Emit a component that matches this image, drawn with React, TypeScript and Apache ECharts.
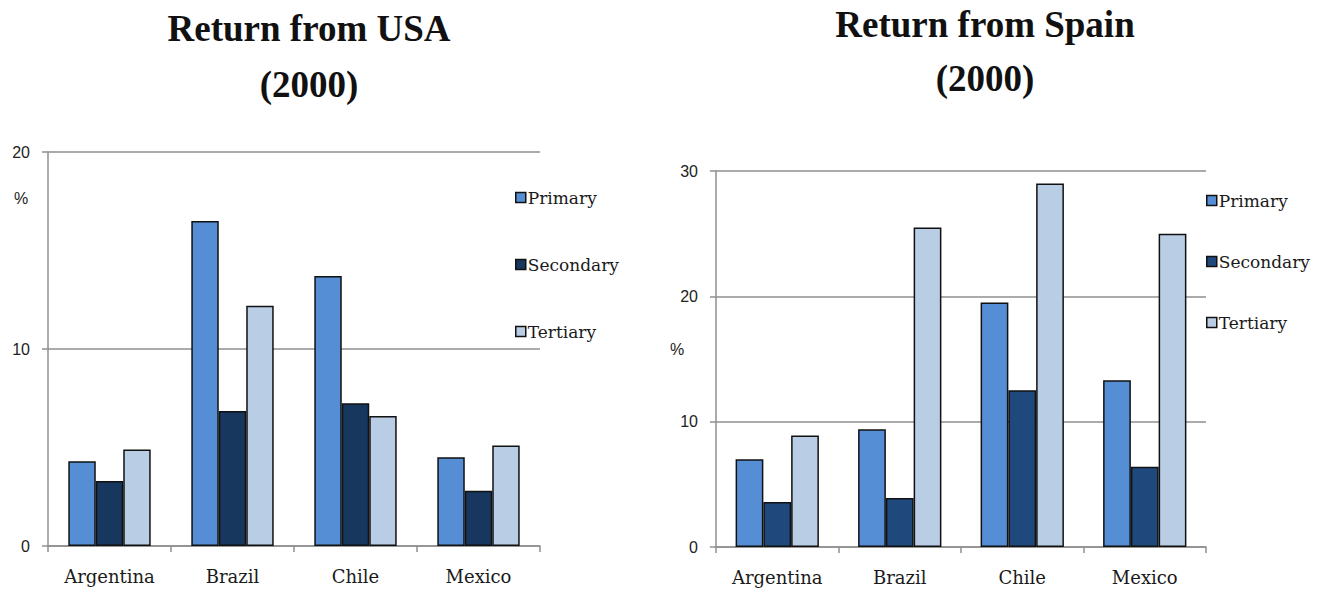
import React, { useEffect, useRef } from "react";
import * as echarts from "echarts";

const categories = ["Argentina", "Brazil", "Chile", "Mexico"];
const seriesNames = ["Primary", "Secondary", "Tertiary"];

const usaPrimary = [4.3, 16.5, 13.7, 4.5];
const usaSecondary = [3.3, 6.85, 7.25, 2.8];
const usaTertiary = [4.9, 12.2, 6.6, 5.1];

const spainPrimary = [7.0, 9.4, 19.5, 13.3];
const spainSecondary = [3.6, 3.9, 12.5, 6.4];
const spainTertiary = [8.9, 25.5, 29.0, 25.0];

const usaTicks = { min: 0, max: 20, interval: 10 };
const spainTicks = { min: 0, max: 30, interval: 10 };

const colPrimary = "#558ED5";
const colSecondaryUsa = "#17375E";
const colSecondarySpain = "#1F497D";
const colTertiary = "#B9CDE5";

const serif = "'DejaVu Serif', serif";
const titleFont = "'Liberation Serif', serif";
const sans = "'Liberation Sans', Arial, sans-serif";
const gridGrey = "#8f8f8f";

export default function App() {
  const ref = useRef<HTMLDivElement>(null);
  useEffect(() => {
    document.body.style.margin = "0";
    if (!ref.current) return;
    const chart = echarts.init(ref.current, undefined, { renderer: "svg" });

    const xAxisBase = (gridIndex: number) => ({
      type: "category",
      gridIndex,
      data: categories,
      axisLine: { show: true, lineStyle: { color: gridGrey, width: 1.5 } },
      axisTick: { show: true, length: 6, lineStyle: { color: gridGrey, width: 1.5 } },
      axisLabel: { margin: 21, fontFamily: serif, fontSize: 18, color: "#1a1a1a" },
    });
    const yAxisBase = (gridIndex: number, t: any) => ({
      type: "value",
      gridIndex,
      min: t.min,
      max: t.max,
      interval: t.interval,
      axisLine: { show: true, lineStyle: { color: gridGrey, width: 1.5 } },
      axisTick: { show: true, length: 6, lineStyle: { color: gridGrey, width: 1.5 } },
      splitLine: { show: true, lineStyle: { color: gridGrey, width: 1.5 } },
      axisLabel: { margin: 18, fontFamily: sans, fontSize: 16, color: "#222" },
    });

    const barSeries = (name: string, data: number[], color: string, idx: number, gap: string) => ({
      type: "bar",
      name,
      data,
      xAxisIndex: idx,
      yAxisIndex: idx,
      barGap: "0%",
      barCategoryGap: gap,
      itemStyle: { color, borderColor: "#111", borderWidth: 1.5 },
    });

    const legendBase = (left: number, top: number, gap: number, secCol: string) => ({
      orient: "vertical",
      left,
      top,
      itemWidth: 10,
      itemHeight: 10,
      itemGap: gap,
      icon: "rect",
      selectedMode: false,
      textStyle: { fontFamily: serif, fontSize: 17, color: "#1a1a1a", padding: [0, 0, 0, -3] },
      data: [
        { name: "Primary", itemStyle: { color: colPrimary, borderColor: "#111", borderWidth: 1.5 } },
        { name: "Secondary", itemStyle: { color: secCol, borderColor: "#111", borderWidth: 1.5 } },
        { name: "Tertiary", itemStyle: { color: colTertiary, borderColor: "#111", borderWidth: 1.5 } },
      ],
    });

    const titleText = (text: string, x: number, y: number, size: number) => ({
      type: "text",
      x,
      y,
      style: {
        text,
        fontFamily: titleFont,
        fontWeight: "bold",
        fontSize: size,
        fill: "#111",
        textAlign: "center",
        textVerticalAlign: "middle",
      },
    });
    const pct = (x: number, y: number) => ({
      type: "text",
      x,
      y,
      style: {
        text: "%",
        fontFamily: sans,
        fontSize: 16,
        fill: "#222",
        textAlign: "center",
        textVerticalAlign: "middle",
      },
    });

    chart.setOption({
      animation: false,
      backgroundColor: "#fff",
      grid: [
        { left: 48, right: 1329 - 540, top: 152, bottom: 590 - 546 },
        { left: 716, right: 1329 - 1206, top: 171, bottom: 590 - 547 },
      ],
      xAxis: [xAxisBase(0), xAxisBase(1)],
      yAxis: [yAxisBase(0, usaTicks), yAxisBase(1, spainTicks)],
      legend: [legendBase(510, 184, 50, colSecondaryUsa), legendBase(1201, 187, 44, colSecondarySpain)],
      series: [
        barSeries(seriesNames[0], usaPrimary, colPrimary, 0, "33%"),
        barSeries(seriesNames[1], usaSecondary, colSecondaryUsa, 0, "33%"),
        barSeries(seriesNames[2], usaTertiary, colTertiary, 0, "33%"),
        barSeries(seriesNames[0], spainPrimary, colPrimary, 1, "32%"),
        barSeries(seriesNames[1], spainSecondary, colSecondarySpain, 1, "32%"),
        barSeries(seriesNames[2], spainTertiary, colTertiary, 1, "32%"),
      ],
      graphic: [
        titleText("Return from USA", 309, 28, 37),
        titleText("(2000)", 309, 84, 37),
        titleText("Return from Spain", 985, 24, 37),
        titleText("(2000)", 985, 78, 37),
        pct(21, 198),
        pct(677, 349),
      ],
    });
    return () => chart.dispose();
  }, []);
  return <div ref={ref} style={{ width: 1329, height: 590 }} />;
}
